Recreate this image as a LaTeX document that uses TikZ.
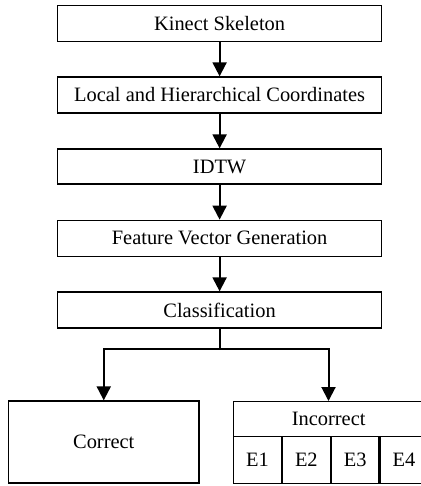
\documentclass[tikz,border=0pt]{standalone}
\usepackage{fontspec}
\setmainfont{Liberation Serif}
\usetikzlibrary{arrows.meta}
\begin{document}
\begin{tikzpicture}[x=1bp,y=-1bp,
  stage/.style={draw,line width=1.3bp,rectangle,minimum width=324bp,minimum height=36bp,inner sep=0pt,font=\fontsize{20.5}{24}\selectfont},
  cellbox/.style={draw,line width=1.3bp,rectangle,inner sep=0pt,font=\fontsize{20.5}{24}\selectfont},
  flow/.style={line width=2bp,-{Triangle[length=14bp,width=14bp]}}]
\useasboundingbox (0,0) rectangle (420,486);
\node[stage] (kin) at (219.6,23.3) {Kinect Skeleton};
\node[stage] (loc) at (219.6,95) {Local and Hierarchical Coordinates};
\node[stage,minimum height=35bp] (idtw) at (219.6,166.5) {IDTW};
\node[stage] (feat) at (219.6,238.3) {Feature Vector Generation};
\node[stage] (cls) at (219.6,310) {Classification};
\node[cellbox,minimum width=190.5bp,minimum height=82bp] (cor) at (103.75,442) {Correct};
\node[cellbox,minimum width=190bp,minimum height=35bp,anchor=north west] (inc) at (233,401) {Incorrect};
\node[cellbox,minimum width=47.6bp,minimum height=47bp,anchor=north west] (e1) at (233,436) {E1};
\node[cellbox,minimum width=47.6bp,minimum height=47bp,anchor=north west] (e2) at (e1.north east) {E2};
\node[cellbox,minimum width=47.6bp,minimum height=47bp,anchor=north west] (e3) at (e2.north east) {E3};
\node[cellbox,minimum width=47.2bp,minimum height=47bp,anchor=north west] (e4) at (e3.north east) {E4};
\coordinate (split) at (219.6,349);
\coordinate (rdrop) at (328.5,349);
\draw[flow] (kin) -- (loc);
\draw[flow] (loc) -- (idtw);
\draw[flow] (idtw) -- (feat);
\draw[flow] (feat) -- (cls);
\draw[line width=2bp] (cls) -- (split);
\draw[flow] (split) -| (cor.north);
\draw[flow] (split) -- (rdrop) -- (rdrop |- inc.north);
\end{tikzpicture}
\end{document}
